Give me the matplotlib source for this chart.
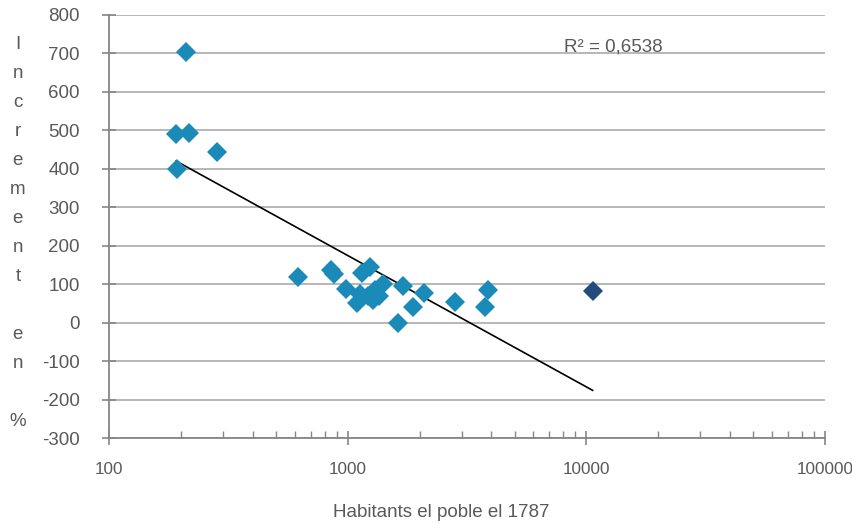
import numpy as np
import matplotlib.pyplot as plt
from matplotlib.ticker import LogLocator, NullFormatter, FixedLocator

# Towns: inhabitants in 1787 vs. growth (%)
habitants = [210, 191, 216, 283, 193, 621, 849, 876, 981, 1091, 1130, 1150, 1240,
             1220, 1280, 1300, 1350, 1400, 1629, 1700, 1872, 2088, 2807, 3772, 3882]
increment = [705, 490, 492, 445, 400, 118, 136, 127, 88, 50, 75, 128, 145,
             68, 60, 85, 68, 100, 0, 96, 41, 77, 54, 40, 84]

# The big city, drawn darker
ciutat_hab = [10627]
ciutat_inc = [82]

yticks = [-300, -200, -100, 0, 100, 200, 300, 400, 500, 600, 700, 800]
xticks = [100, 1000, 10000, 100000]
r2_text = "R² = 0,6538"

grey_txt = "#595959"
grey_axis = "#868686"
grey_grid = "#AAAAAA"
fs = 13.5

plt.rcParams['font.family'] = ['Liberation Sans', 'DejaVu Sans']

fig = plt.figure(figsize=(8.53, 5.24), dpi=100)
ax = fig.add_axes([0.1278, 0.1641, 0.8394, 0.8073])

# logarithmic trend line over all points
all_x = np.array(habitants + ciutat_hab, dtype=float)
all_y = np.array(increment + ciutat_inc, dtype=float)
a, b = np.polyfit(np.log10(all_x), all_y, 1)
xl = np.array([all_x.min(), all_x.max()])
ax.plot(xl, a * np.log10(xl) + b, color="black", lw=1.2, zorder=3)

ax.plot(habitants, increment, ls="none", marker="D", ms=10.5,
        color="#1A8BB9", mew=0, zorder=4)
ax.plot(ciutat_hab, ciutat_inc, ls="none", marker="D", ms=10.5,
        color="#234B7B", mew=0, zorder=4)

ax.set_xscale("log")
ax.set_xlim(100, 100000)
ax.set_ylim(-300, 800)
ax.xaxis.set_major_locator(FixedLocator(xticks))
ax.set_xticklabels([str(v) for v in xticks])
ax.xaxis.set_minor_locator(LogLocator(base=10, subs=np.arange(2, 10)))
ax.xaxis.set_minor_formatter(NullFormatter())
ax.set_yticks(yticks)
ax.set_yticklabels([str(v) for v in yticks])

ax.grid(axis="y", color=grey_grid, lw=1.2)
ax.set_axisbelow(True)
for s in ["top", "right"]:
    ax.spines[s].set_visible(False)
for s in ["left", "bottom"]:
    ax.spines[s].set_color(grey_axis)
    ax.spines[s].set_linewidth(1.3)

ax.tick_params(axis="y", which="major", direction="inout", length=10, width=1.2,
               color=grey_axis, labelcolor=grey_txt, labelsize=fs, pad=16)
ax.tick_params(axis="x", which="major", direction="inout", length=10, width=1.2,
               color=grey_axis, labelcolor=grey_txt, labelsize=12.3, pad=12)
ax.tick_params(axis="x", which="minor", direction="in", length=5, width=1.0,
               color=grey_axis)

ax.set_xlabel("Habitants el poble el 1787", color=grey_txt, fontsize=fs)
ax.xaxis.set_label_coords(0.464, -0.155)

# stacked vertical y title as in the original
fig.text(0.021, 0.555, "I\nn\nc\nr\ne\nm\ne\nn\nt\n\ne\nn\n\n%", color=grey_txt,
         fontsize=fs, ha="center", va="center", linespacing=1.92)

ax.text(0.635, 0.925, r2_text, transform=ax.transAxes, color=grey_txt,
        fontsize=fs, ha="left", va="center")

fig.savefig("out.png", dpi=100)
